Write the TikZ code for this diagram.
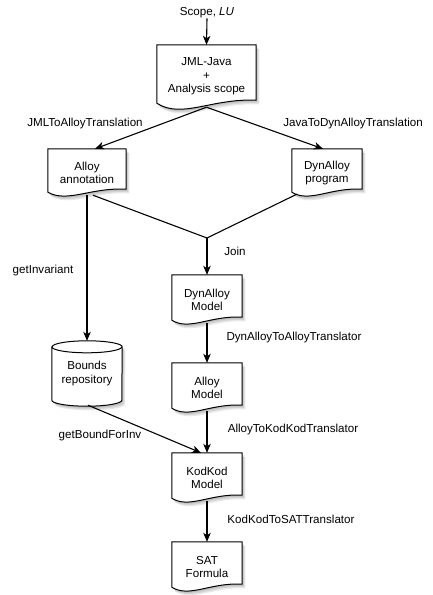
\documentclass[tikz,border=0pt]{standalone}
\usepackage{fontspec}
\setmainfont{Liberation Sans}
\usetikzlibrary{arrows.meta,calc}
\pgfdeclarelayer{background}
\pgfsetlayers{background,main}
\newcommand\lbl{\fontsize{11.6}{13.6}\selectfont}
\tikzset{
  doc/.style={rectangle, inner sep=0pt, minimum width=70pt, minimum height=50pt, align=center, font=\lbl},
  cylbox/.style={rectangle, inner sep=0pt, minimum width=70pt, minimum height=65pt, align=center, font=\lbl},
  lab/.style={font=\lbl, inner sep=0pt},
  conn/.style={line width=1.1pt, -{Stealth[length=9pt,width=7.5pt,inset=2.5pt]}},
  plainline/.style={line width=1.1pt},
  outline/.style={line width=1pt, fill=white},
  shade/.style={fill=black, opacity=0.09}
}
\newcommand\docdraw[2]{%
\begin{pgfonlayer}{background}
\foreach \dx/\dy in {1.2/1.6,2.2/2.9,3.2/4.2}{%
\fill[shade, transform canvas={shift={(\dx pt,-\dy pt)}}]
 (#1.north west) -- (#1.north east) -- ($(#1.south east)+(0,-8)$)
 .. controls ($(#1.south east)!0.45!(#1.south west)+(0,-10)$) and ($(#1.south west)!0.25!(#1.south east)+(0,#2)$)
 .. ($(#1.south west)+(0,-5)$) -- cycle;}
\draw[outline]
 (#1.north west) -- (#1.north east) -- ($(#1.south east)+(0,-8)$)
 .. controls ($(#1.south east)!0.45!(#1.south west)+(0,-10)$) and ($(#1.south west)!0.25!(#1.south east)+(0,#2)$)
 .. ($(#1.south west)+(0,-5)$) -- cycle;
\end{pgfonlayer}}
\newcommand\cyldraw[1]{%
\begin{pgfonlayer}{background}
\foreach \dx/\dy in {1.2/1.6,2.2/2.9,3.2/4.2}{%
\fill[shade, transform canvas={shift={(\dx pt,-\dy pt)}}]
 ($(#1.north west)+(0,6)$) -- ($(#1.south west)+(0,-6)$)
 arc[start angle=180,end angle=360,x radius=35pt,y radius=6pt]
 -- ($(#1.north east)+(0,6)$)
 arc[start angle=0,end angle=180,x radius=35pt,y radius=6pt] -- cycle;}
\draw[outline]
 ($(#1.north west)+(0,6)$) -- ($(#1.south west)+(0,-6)$)
 arc[start angle=180,end angle=360,x radius=35pt,y radius=6pt]
 -- ($(#1.north east)+(0,6)$)
 arc[start angle=0,end angle=180,x radius=35pt,y radius=6pt] -- cycle;
\draw[line width=1pt] ($(#1.north west)+(0,6)$)
 arc[start angle=180,end angle=360,x radius=35pt,y radius=6pt];
\end{pgfonlayer}}
\begin{document}
\begin{tikzpicture}[x=1pt,y=-1pt]
\path[use as bounding box] (0,0) rectangle (432,595);
% nodes
\node[lab] (scope) at (207,13) {Scope, \textit{LU}};
\node[doc, minimum width=99pt, minimum height=63pt] (jml) at (206.5,76.5) {JML-Java\\+\\Analysis scope};
\node[doc, minimum width=78pt, minimum height=48pt] (ann) at (87,173) {Alloy\\annotation};
\node[doc, minimum height=48pt] (prog) at (327,173) {DynAlloy\\program};
\node[doc] (dmod) at (207,300) {DynAlloy\\Model};
\node[doc] (amod) at (207,388) {Alloy\\Model};
\node[doc] (kod) at (207,478) {KodKod\\Model};
\node[doc] (sat) at (207,567) {SAT\\Formula};
\node[cylbox] (bounds) at (87,373.5) {Bounds\\repository};
\coordinate (join) at (207,238);
% outlines
\docdraw{jml}{11}
\docdraw{ann}{6}
\docdraw{prog}{6}
\docdraw{dmod}{6}
\docdraw{amod}{6}
\docdraw{kod}{6}
\docdraw{sat}{6}
\cyldraw{bounds}
% labels
\node[lab] (l1) at (85,123) {JMLToAlloyTranslation};
\node[lab] (l2) at (353,123) {JavaToDynAlloyTranslation};
\node[lab] (l3) at (235,251) {Join};
\node[lab] (l4) at (43,270) {getInvariant};
\node[lab] (l5) at (294,337) {DynAlloyToAlloyTranslator};
\node[lab] (l6) at (293,429) {AlloyToKodKodTranslator};
\node[lab] (l7) at (100,435) {getBoundForInv};
\node[lab] (l8) at (291,519) {KodKodToSATTranslator};
% connectors
\draw[conn] (scope.south) -- (jml.north);
\draw[conn] ($(jml.south)+(0,-1)$) -- ($(ann.north)+(8,0)$);
\draw[conn] ($(jml.south)+(0,-1)$) -- ($(prog.north)+(-4,0)$);
\draw[conn] ($(ann.south)+(0,-2)$) -- (bounds.north);
\draw[plainline] ($(ann.south)+(6,-2)$) -- (join);
\draw[plainline] ($(prog.south west)+(5,-3)$) -- (join);
\draw[conn] (join) -- (dmod.north);
\draw[conn] ($(dmod.south)+(0,-2)$) -- (amod.north);
\draw[conn] ($(amod.south)+(0,-2)$) -- (kod.north);
\draw[conn] ($(bounds.south)+(1,-1)$) -- ($(kod.north)+(-6,0)$);
\draw[conn] ($(kod.south)+(0,-2)$) -- (sat.north);
\end{tikzpicture}
\end{document}
